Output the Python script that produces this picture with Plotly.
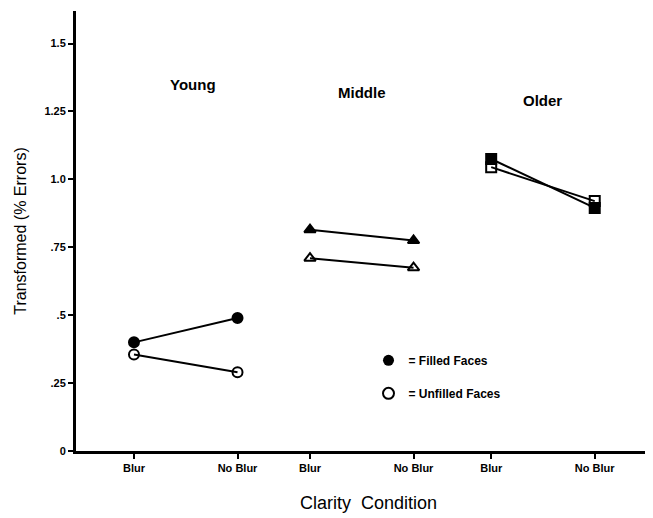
import plotly.graph_objects as go

groups = ["Young", "Middle", "Older"]
conditions = ["Blur", "No Blur"]
tick_labels = ["Blur", "No Blur", "Blur", "No Blur", "Blur", "No Blur"]
filled_vals = {"Young": [0.40, 0.49], "Middle": [0.815, 0.775], "Older": [1.075, 0.895]}
unfilled_vals = {"Young": [0.355, 0.29], "Middle": [0.71, 0.675], "Older": [1.045, 0.92]}
y_ticks = [0, 0.25, 0.5, 0.75, 1.0, 1.25, 1.5]
y_tick_text = ["0", ".25", ".5", ".75", "1.0", "1.25", "1.5"]
legend_labels = ["= Filled Faces", "= Unfilled Faces"]

# layout positions (x coordinate of each condition within each group)
group_x = {"Young": [0, 1.0], "Middle": [1.7, 2.7], "Older": [3.45, 4.45]}
tick_x = [0, 1.0, 1.7, 2.7, 3.45, 4.45]
symbols = {"Young": "circle", "Middle": "triangle-up", "Older": "square"}
label_pos = {"Young": (0.57, 1.35), "Middle": (2.2, 1.32), "Older": (3.95, 1.29)}

fig = go.Figure()
for g in groups:
    fig.add_trace(go.Scatter(
        x=group_x[g], y=filled_vals[g], mode="lines+markers",
        line=dict(color="black", width=2),
        marker=dict(symbol=symbols[g], size=10, color="black", line=dict(color="black", width=2)),
        showlegend=False))
    fig.add_trace(go.Scatter(
        x=group_x[g], y=unfilled_vals[g], mode="lines+markers",
        line=dict(color="black", width=2),
        marker=dict(symbol=symbols[g] + "-open", size=10, color="black", line=dict(color="black", width=2)),
        showlegend=False))

fig.add_trace(go.Scatter(x=[None], y=[None], mode="markers", name=legend_labels[0],
                         legendgroup="a",
                         marker=dict(symbol="circle", size=11, color="black")))
fig.add_trace(go.Scatter(x=[None], y=[None], mode="markers", name=legend_labels[1],
                         legendgroup="b",
                         marker=dict(symbol="circle-open", size=11, color="black", line=dict(width=2))))

for g in groups:
    x, y = label_pos[g]
    fig.add_annotation(x=x, y=y, text=g, showarrow=False,
                       font=dict(family="Liberation Sans", size=15, color="black", weight="bold"))

fig.update_layout(
    width=653, height=518,
    margin=dict(l=68, r=0, t=3, b=75),
    paper_bgcolor="white", plot_bgcolor="white",
    font=dict(family="Liberation Sans", color="black"),
    legend=dict(x=0.50, y=0.239, xanchor="left", yanchor="top",
                bgcolor="rgba(0,0,0,0)", font=dict(size=12, weight="bold"),
                itemwidth=30, tracegroupgap=14),
    xaxis=dict(range=[-0.56, 5.09], showgrid=False, zeroline=False,
               showline=True, linecolor="black", linewidth=3,
               tickmode="array", tickvals=tick_x, ticktext=tick_labels,
               ticks="outside", ticklen=5, tickwidth=1.5, tickcolor="black",
               tickfont=dict(size=11, weight="bold"),
               title=dict(text="Clarity  Condition", font=dict(size=18), standoff=24)),
    yaxis=dict(range=[0, 1.62], showgrid=False, zeroline=False,
               showline=True, linecolor="black", linewidth=3,
               tickmode="array", tickvals=y_ticks, ticktext=y_tick_text,
               ticks="outside", ticklen=5, tickwidth=1.5, tickcolor="black",
               tickfont=dict(size=11, weight="bold"),
               title=dict(text="Transformed (% Errors)", font=dict(size=16), standoff=14)),
)

fig.write_html("out.html")
